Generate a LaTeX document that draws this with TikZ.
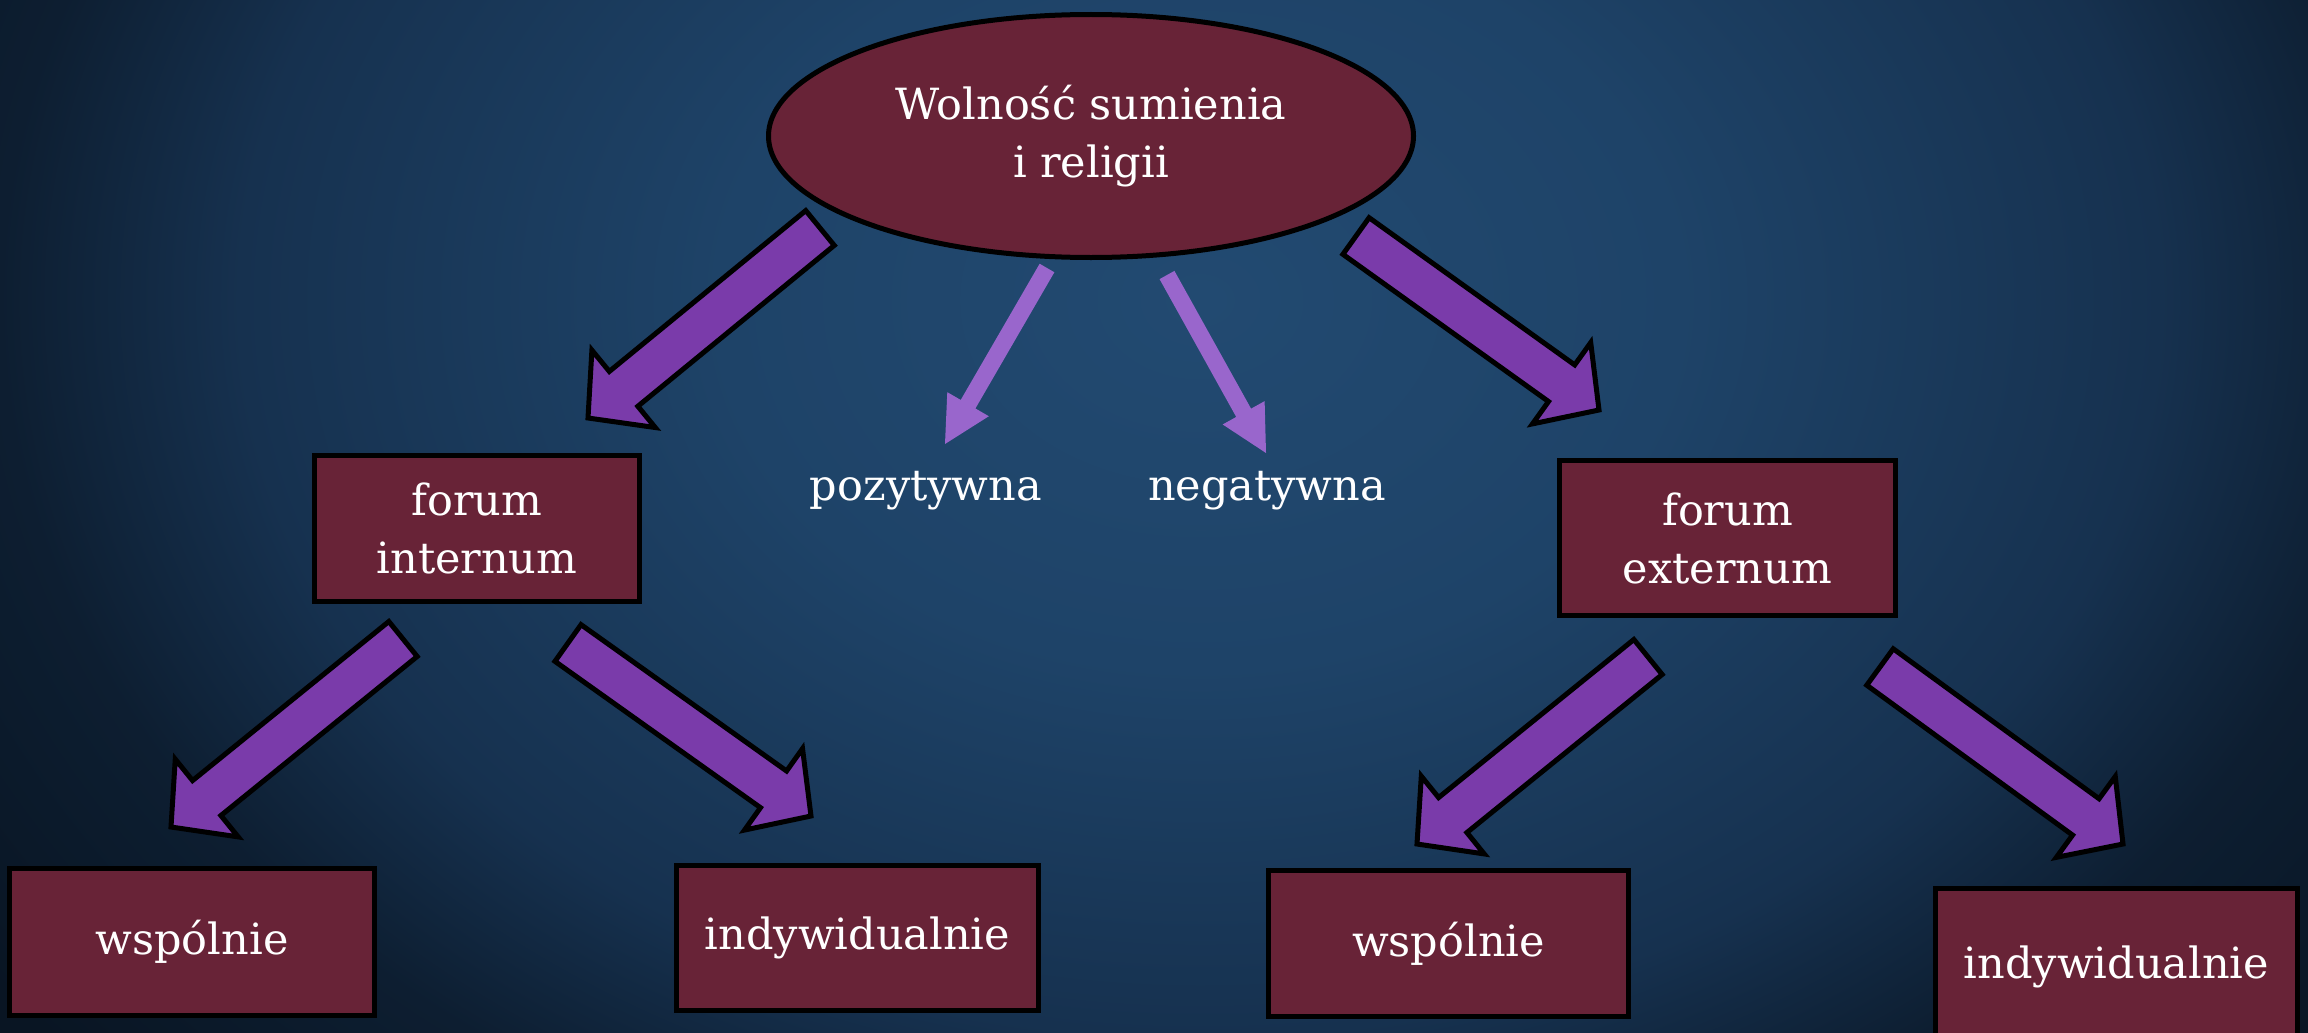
\documentclass[tikz,border=0pt]{standalone}
\usepackage{fontspec}
\setmainfont{DejaVu Serif}
\usetikzlibrary{calc,shapes.geometric}
\definecolor{boxred}{HTML}{682337}
\definecolor{arrpurple}{HTML}{7A3BAA}
\definecolor{lav}{HTML}{9966CC}
\definecolor{bga}{HTML}{224A71}
\definecolor{bgb}{HTML}{1E4368}
\definecolor{bgc}{HTML}{16314F}
\definecolor{bgd}{HTML}{0D1E31}
\definecolor{bge}{HTML}{091523}
\pgfdeclareradialshading{bgshade}{\pgfpoint{0bp}{0bp}}{color(0bp)=(bga); color(8bp)=(bgb); color(16bp)=(bgc); color(20bp)=(bgd); color(25bp)=(bge); color(50bp)=(bge)}
\newcommand{\blockarr}[6][]{%
  \coordinate (ba-base) at ($(#3)!#6!(#2)$);
  \path[#1] ($(#2)!#4!90:(#3)$) -- ($(ba-base)!#4!90:(#3)$) -- ($(ba-base)!#5!90:(#3)$) -- (#3)
    -- ($(ba-base)!#5!-90:(#3)$) -- ($(ba-base)!#4!-90:(#3)$) -- ($(#2)!#4!-90:(#3)$) -- cycle;
}
\tikzset{
  txt/.style={text=white, font=\fontsize{43}{58}\selectfont, align=center},
  rbox/.style={txt, draw=black, fill=boxred, line width=5pt, inner sep=0pt},
  bigarr/.style={draw=black, fill=arrpurple, line width=5pt, line join=miter},
  thinarr/.style={fill=lav}
}
\begin{document}
\begin{tikzpicture}[x=1pt,y=-1pt]
\useasboundingbox (0,0) rectangle (2308,1033);
\begin{scope}
\clip (0,0) rectangle (2308,1033);
\fill[bge] (0,0) rectangle (2308,1033);
\shade[shading=bgshade] (-300,-850) rectangle (2700,1450);

% coordinates of arrow ends
\coordinate (a1s) at (820,228);  \coordinate (a1e) at (588,418);
\coordinate (a2s) at (1356,236); \coordinate (a2e) at (1599,410);
\coordinate (a3s) at (403,639);  \coordinate (a3e) at (171,827);
\coordinate (a4s) at (568,643);  \coordinate (a4e) at (811,816);
\coordinate (a5s) at (1648,657); \coordinate (a5e) at (1417,844);
\coordinate (a6s) at (1880,667); \coordinate (a6e) at (2123,844);
\coordinate (t1s) at (1047,268); \coordinate (t1e) at (945,444);
\coordinate (t2s) at (1167,275); \coordinate (t2e) at (1266,453);

\blockarr[bigarr]{a1s}{a1e}{22.5pt}{50pt}{46pt}
\blockarr[bigarr]{a2s}{a2e}{22.5pt}{50pt}{46pt}
\blockarr[bigarr]{a3s}{a3e}{22.5pt}{50pt}{46pt}
\blockarr[bigarr]{a4s}{a4e}{22.5pt}{50pt}{46pt}
\blockarr[bigarr]{a5s}{a5e}{22.5pt}{50pt}{46pt}
\blockarr[bigarr]{a6s}{a6e}{22.5pt}{50pt}{46pt}
\blockarr[thinarr]{t1s}{t1e}{8.5pt}{24pt}{46pt}
\blockarr[thinarr]{t2s}{t2e}{8.5pt}{24pt}{46pt}

\node[rbox, ellipse, minimum width=645pt, minimum height=243pt] (root) at (1091,136) {Wolność sumienia\\i religii};

\node[txt, anchor=base] (poz) at (926,500) {pozytywna};
\node[txt, anchor=base] (neg) at (1267,500) {negatywna};

\node[rbox, minimum width=325pt, minimum height=146pt] (fi) at (477,528.5) {forum\\internum};
\node[rbox, minimum width=336pt, minimum height=155pt] (fe) at (1727.5,538) {forum\\externum};
\node[rbox, minimum width=365pt, minimum height=147pt] (w1) at (192,942) {wspólnie};
\node[rbox, minimum width=362pt, minimum height=145pt] (i1) at (857.5,938) {indywidualnie};
\node[rbox, minimum width=360pt, minimum height=146pt] (w2) at (1448.5,943.5) {wspólnie};
\node[rbox, minimum width=362pt, minimum height=157pt] (i2) at (2116.5,967) {indywidualnie};
\end{scope}
\end{tikzpicture}
\end{document}
